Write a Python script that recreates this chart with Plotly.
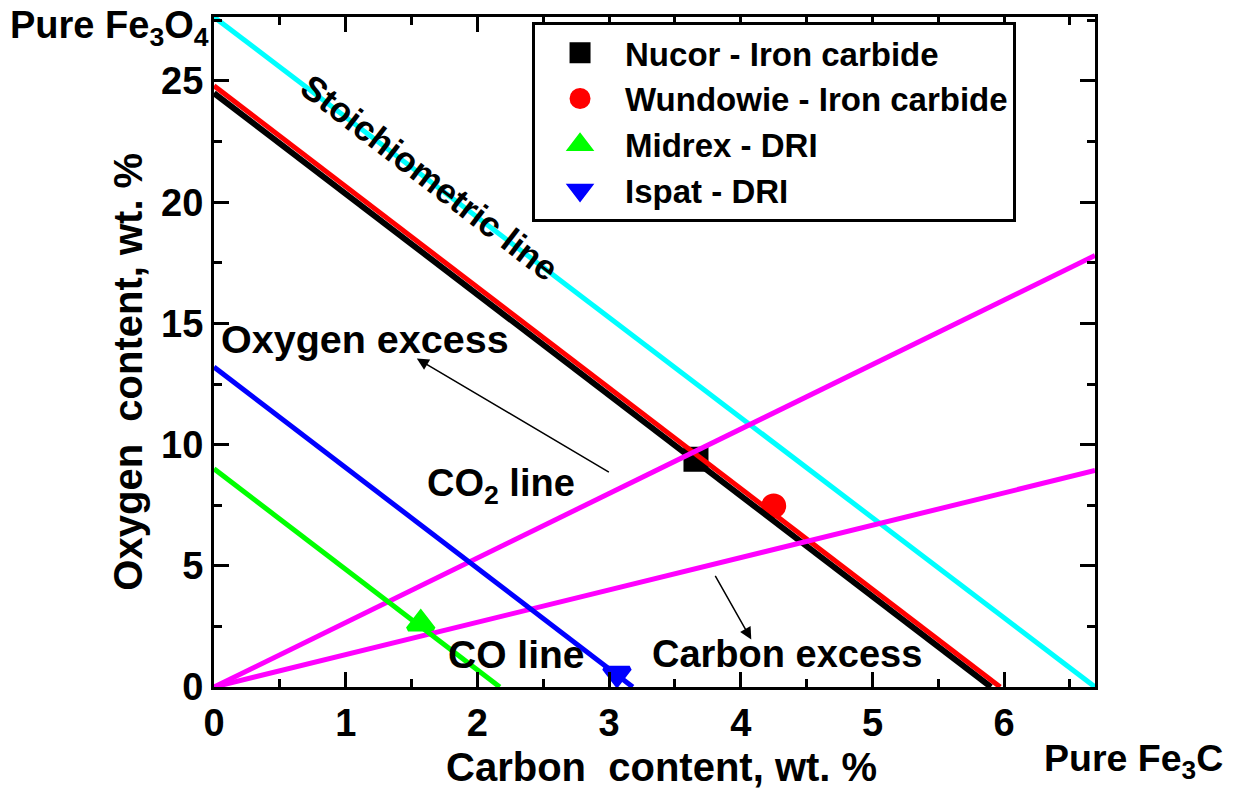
import plotly.graph_objects as go

# Composition lines: carbon wt.% vs oxygen wt.%
stoich_c = [0, 1, 2, 3, 4, 5, 6, 6.69]
stoich_o = [27.64, 23.5, 19.4, 15.25, 11.1, 7.0, 2.85, 0]

black_c = [0, 1, 2, 3, 4, 5, 5.9]
black_o = [24.5, 20.35, 16.2, 12.05, 7.9, 3.75, 0]

red_c = [0, 1, 2, 3, 4, 5, 5.97]
red_o = [24.8, 20.65, 16.5, 12.35, 8.2, 4.05, 0]

blue_c = [0, 1, 2, 3, 3.18]
blue_o = [13.2, 9.05, 4.9, 0.75, 0]

green_c = [0, 1, 2, 2.17]
green_o = [9.0, 4.85, 0.7, 0]

co2_c = [0, 1, 2, 3, 4, 5, 6, 6.69]
co2_o = [0, 2.66, 5.33, 8.0, 10.65, 13.3, 15.95, 17.8]

co_c = [0, 1, 2, 3, 4, 5, 6, 6.69]
co_o = [0, 1.33, 2.67, 4.0, 5.33, 6.66, 8.0, 8.93]

# Measured products
products = ["Nucor - Iron carbide", "Wundowie - Iron carbide", "Midrex - DRI", "Ispat - DRI"]
product_c = [3.66, 4.25, 1.57, 3.06]
product_o = [9.4, 7.47, 2.62, 0.55]
product_symbols = ["square", "circle", "triangle-up", "triangle-down"]
product_colors = ["#000000", "#ff0000", "#00ff00", "#0000ff"]
product_sizes = [20, 20, 22, 22]

FONT = "Liberation Sans, Arial, sans-serif"

fig = go.Figure()

for name, c, o, sym, col, sz in zip(products, product_c, product_o, product_symbols,
                                     product_colors, product_sizes):
    fig.add_trace(go.Scatter(x=[c], y=[o], mode="markers", name=name,
                             marker=dict(symbol=sym, color=col, size=sz,
                                         line=dict(width=5, color=col)),
                             cliponaxis=False))

line_specs = [
    (stoich_c, stoich_o, "#00ffff", 5),
    (black_c, black_o, "#000000", 6),
    (red_c, red_o, "#ff0000", 5),
    (co2_c, co2_o, "#ff00ff", 5),
    (co_c, co_o, "#ff00ff", 5),
    (blue_c, blue_o, "#0000ff", 5),
    (green_c, green_o, "#00ff00", 5),
]
for xs, ys, col, w in line_specs:
    fig.add_trace(go.Scatter(x=xs, y=ys, mode="lines", showlegend=False,
                             line=dict(color=col, width=w), hoverinfo="skip"))


def bold(size):
    return dict(family=FONT, size=size, color="black", weight="bold")


annotations = [
    dict(x=1.64, y=21.0, text="Stoichiometric line", textangle=37.5, showarrow=False,
         font=bold(35)),
    dict(x=1.15, y=14.35, text="Oxygen excess", showarrow=False, font=bold(39.5)),
    dict(x=2.18, y=8.3, text="CO<sub>2</sub> line", showarrow=False, font=bold(38)),
    dict(x=2.30, y=1.35, text="CO line", showarrow=False, font=bold(39)),
    dict(x=4.35, y=1.35, text="Carbon excess", showarrow=False, font=bold(38)),
    # arrows
    dict(x=1.54, y=13.55, ax=3.01, ay=8.83, axref="x", ayref="y", xref="x", yref="y",
         text="", showarrow=True, arrowhead=2, arrowsize=1.6, arrowwidth=1.5, arrowcolor="black"),
    dict(x=4.08, y=1.96, ax=3.80, ay=4.65, axref="x", ayref="y", xref="x", yref="y",
         text="", showarrow=True, arrowhead=2, arrowsize=1.6, arrowwidth=1.5, arrowcolor="black"),
    # end-member labels
    dict(xref="paper", yref="paper", x=-0.003, y=0.984, xanchor="right", yanchor="middle",
         text="Pure Fe<sub>3</sub>O<sub>4</sub>", showarrow=False, font=bold(38)),
    dict(xref="paper", yref="paper", x=0.94, y=-0.11, xanchor="left", yanchor="middle",
         text="Pure Fe<sub>3</sub>C", showarrow=False, font=bold(37.5)),
    # axis titles
    dict(xref="paper", yref="paper", x=0.508, y=-0.119, xanchor="center", yanchor="middle",
         text="Carbon  content, wt. %", showarrow=False, font=bold(40)),
    dict(xref="paper", yref="paper", x=-0.097, y=0.47, xanchor="center", yanchor="middle",
         text="Oxygen  content, wt. %", textangle=-90, showarrow=False, font=bold(40)),
]

axis_common = dict(
    showline=True, linewidth=3, linecolor="black", mirror="ticks",
    ticks="inside", ticklen=15, tickwidth=2.5, tickcolor="black",
    showgrid=False, zeroline=False,
    tickfont=bold(38),
)

fig.update_layout(
    width=1245, height=792,
    margin=dict(l=214, r=150, t=17, b=105),
    paper_bgcolor="white", plot_bgcolor="white",
    xaxis=dict(range=[0, 6.69], dtick=1, tick0=0,
               minor=dict(dtick=0.5, ticks="inside", ticklen=8, tickwidth=2.5, tickcolor="black"),
               **axis_common),
    yaxis=dict(range=[0, 27.64], dtick=5, tick0=0,
               minor=dict(dtick=2.5, ticks="inside", ticklen=8, tickwidth=2.5, tickcolor="black"),
               **axis_common),
    legend=dict(x=0.361, y=0.993, xanchor="left", yanchor="top",
                bordercolor="black", borderwidth=3, bgcolor="white",
                font=bold(33),
                itemwidth=80, tracegroupgap=0),
    annotations=annotations,
    showlegend=True,
)

fig.write_html("out.html")
